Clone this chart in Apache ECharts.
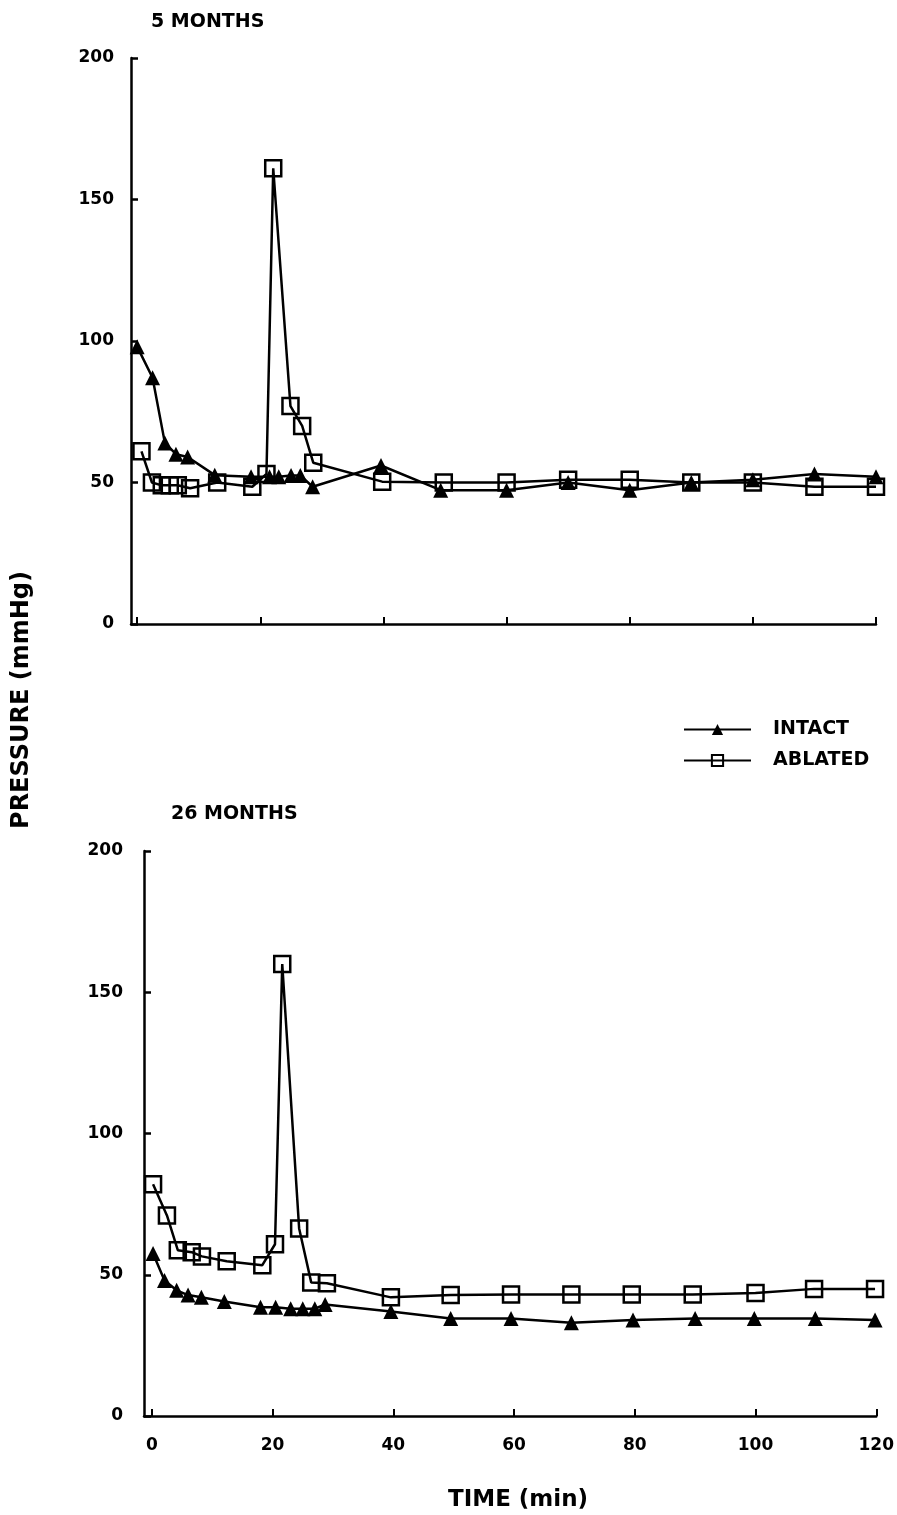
<!DOCTYPE html>
<html>
<head>
<meta charset="utf-8">
<script src="https://cdn.jsdelivr.net/npm/echarts@6/dist/echarts.min.js"></script>
<style>
html,body{margin:0;padding:0;background:#fff;}
#chart{width:897px;height:1515px;}
</style>
</head>
<body>
<div id="chart"></div>
<script>
// ---- data (time in min, pressure in mmHg) ----
var top_intact_t = [0, 2.5, 4.5, 6.3, 8.2, 12.6, 18.5, 21.5, 23, 25, 26.5, 28.5, 39.6, 49.3, 60, 70, 80, 90, 100, 110, 120];
var top_intact_v = [98, 87, 64, 60, 59, 52.6, 52, 52, 52, 52.5, 52.5, 48.5, 56, 47.3, 47.3, 50, 47.3, 50, 51, 53, 52];
var top_ablated_t = [0.7, 2.4, 4, 5.3, 6.6, 8.6, 13, 18.7, 21, 22.1, 24.9, 26.8, 28.6, 39.8, 49.8, 60, 70, 80, 90, 100, 110, 120];
var top_ablated_v = [61, 50, 49, 49, 49, 48, 50, 48.5, 53, 161, 77, 70, 57, 50.3, 50, 50, 51, 51, 50, 50, 48.5, 48.5];

var bot_intact_t = [0.2, 2.1, 4.1, 6, 8.2, 12, 18, 20.5, 23, 25, 27, 28.7, 39.6, 49.5, 59.5, 69.5, 79.7, 90, 99.8, 109.9, 119.8];
var bot_intact_v = [57.5, 48, 44.5, 42.8, 42, 40.5, 38.5, 38.5, 38, 38, 38, 39.5, 37, 34.5, 34.5, 33, 34, 34.5, 34.5, 34.5, 34];
var bot_ablated_t = [0.2, 2.5, 4.3, 6.6, 8.3, 12.4, 18.3, 20.4, 21.6, 24.4, 26.4, 29, 39.6, 49.5, 59.5, 69.5, 79.5, 89.6, 100, 109.7, 119.8];
var bot_ablated_v = [82, 71, 58.7, 58, 56.5, 54.8, 53.4, 60.8, 160, 66.4, 47.3, 47, 42, 42.8, 43, 43, 43, 43, 43.5, 45, 45];

var xTicks = [0, 20, 40, 60, 80, 100, 120];
var yTicks = [0, 50, 100, 150, 200];

function pairs(t, v) { return t.map(function (x, i) { return [x, v[i]]; }); }

var FONT = 'DejaVu Sans';
var chart = echarts.init(document.getElementById('chart'), null, {renderer: 'canvas'});

function xAxisDef(gridIndex, min, showLabels) {
  return {
    type: 'value', gridIndex: gridIndex, min: min, max: 120,
    axisLine: {show: true, onZero: false, lineStyle: {color: '#000', width: 2.5}},
    axisTick: {show: true, inside: true, length: 7, lineStyle: {color: '#000', width: 2}, customValues: xTicks},
    axisLabel: {show: showLabels, customValues: xTicks, color: '#000', fontFamily: FONT, fontWeight: 'bold', fontSize: 17, margin: 21},
    splitLine: {show: false}
  };
}
function yAxisDef(gridIndex, margin) {
  return {
    type: 'value', gridIndex: gridIndex, min: 0, max: 200, interval: 50,
    axisLine: {show: true, onZero: false, lineStyle: {color: '#000', width: 2.5}},
    axisTick: {show: true, inside: true, length: 7, lineStyle: {color: '#000', width: 2.5}},
    axisLabel: {color: '#000', fontFamily: FONT, fontWeight: 'bold', fontSize: 17, margin: margin},
    splitLine: {show: false}
  };
}
function intactSeries(name, xi, data) {
  return {
    name: name, type: 'line', xAxisIndex: xi, yAxisIndex: xi, data: data,
    symbol: 'triangle', symbolSize: 15,
    itemStyle: {color: '#000'},
    lineStyle: {color: '#000', width: 2.5},
    animation: false, z: 2
  };
}
function ablatedSeries(name, xi, data) {
  return {
    name: name, type: 'line', xAxisIndex: xi, yAxisIndex: xi, data: data,
    symbol: 'rect', symbolSize: 16,
    itemStyle: {color: 'rgba(255,255,255,0)', borderColor: '#000', borderWidth: 2.5},
    lineStyle: {color: '#000', width: 2.5},
    animation: false, z: 3
  };
}

chart.setOption({
  backgroundColor: '#fff',
  animation: false,
  title: [
    {text: '5 MONTHS', left: 146, top: 8, textStyle: {fontFamily: FONT, fontWeight: 'bold', fontSize: 19, color: '#000'}},
    {text: '26 MONTHS', left: 166, top: 800, textStyle: {fontFamily: FONT, fontWeight: 'bold', fontSize: 19, color: '#000'}}
  ],
  graphic: [
    {type: 'text', left: 448, top: 1489, style: {text: 'TIME (min)', font: 'bold 23px "DejaVu Sans"', fill: '#000'}},
    {type: 'text', x: 22, y: 700, rotation: Math.PI / 2, style: {text: 'PRESSURE (mmHg)', font: 'bold 24px "DejaVu Sans"', fill: '#000', align: 'center', verticalAlign: 'middle'}}
  ],
  legend: {
    orient: 'vertical', left: 678, top: 715,
    itemWidth: 67, itemHeight: 14, itemGap: 12,
    data: ['INTACT', 'ABLATED'],
    textStyle: {fontFamily: FONT, fontWeight: 'bold', fontSize: 19, color: '#000', padding: [0, 0, 0, 17]}
  },
  grid: [
    {left: 131, right: 21, top: 58, height: 566},
    {left: 144, right: 18, top: 851, height: 565}
  ],
  xAxis: [xAxisDef(0, -1, false), xAxisDef(1, -1.3, true)],
  yAxis: [yAxisDef(0, 17), yAxisDef(1, 21)],
  series: [
    intactSeries('INTACT', 0, pairs(top_intact_t, top_intact_v)),
    ablatedSeries('ABLATED', 0, pairs(top_ablated_t, top_ablated_v)),
    intactSeries('INTACT', 1, pairs(bot_intact_t, bot_intact_v)),
    ablatedSeries('ABLATED', 1, pairs(bot_ablated_t, bot_ablated_v))
  ]
});
</script>
</body>
</html>
